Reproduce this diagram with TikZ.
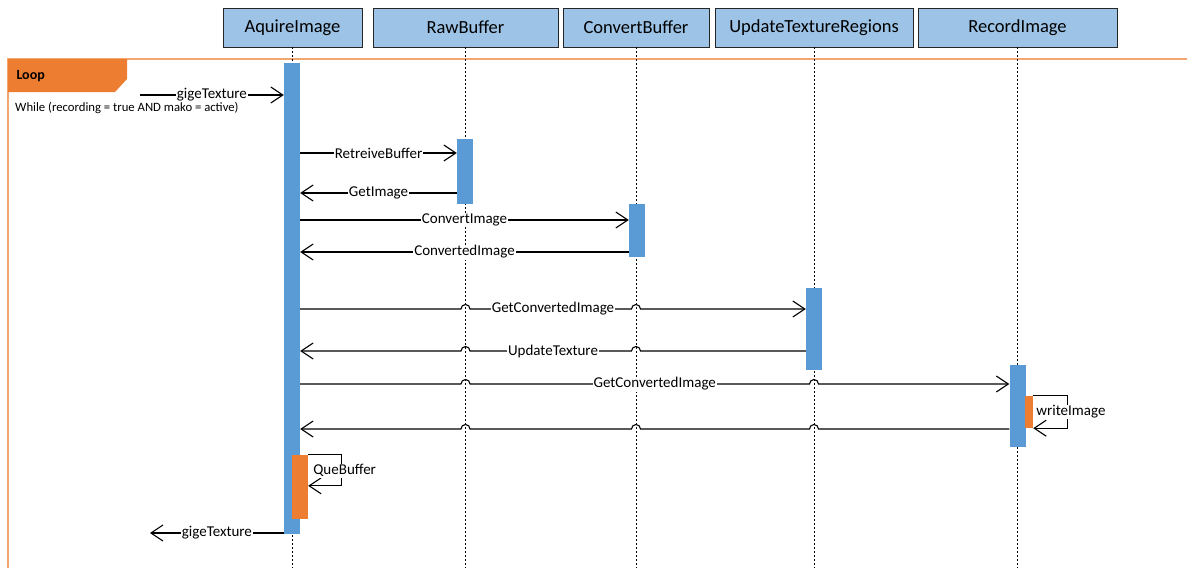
\documentclass[tikz,border=0pt]{standalone}
\usepackage{fontspec}
\setmainfont{Carlito}
\usetikzlibrary{positioning, calc, arrows.meta}
\definecolor{headblue}{RGB}{157,195,230}
\definecolor{barblue}{RGB}{91,155,213}
\definecolor{looporange}{RGB}{237,125,49}
\definecolor{framepeach}{RGB}{244,166,112}
\tikzset{
    header/.style={draw=black!85, fill=headblue, minimum height=39pt, inner sep=0pt, font=\fontsize{18.5}{20}\selectfont},
    bar/.style={fill=barblue, minimum width=16pt, inner sep=0pt},
    selfbar/.style={fill=looporange, minimum width=16pt, inner sep=0pt},
    lifeline/.style={line width=1pt, dash pattern=on 2pt off 2pt},
    msg/.style={line width=1.1pt, -{Straight Barb[length=12pt, width=16pt, line width=1.1pt]}},
    lbl/.style={fill=white, inner sep=1pt, font=\fontsize{15}{17}\selectfont},
}
% hop over a lifeline, going right or going left
\newcommand{\hopr}[2]{-- ([xshift=-4.5pt]#1 |- #2) arc[start angle=180, end angle=0, radius=4.5pt]}
\newcommand{\hopl}[2]{-- ([xshift=4.5pt]#1 |- #2) arc[start angle=0, end angle=180, radius=4.5pt]}

\begin{document}
\begin{tikzpicture}[x=1pt, y=-1pt]
  \useasboundingbox (0,0) rectangle (1187,568);
  % loop frame
  \draw[framepeach, line width=1.5pt] (1187,59) -- (8,59) -- (8,568);
  \fill[looporange] (8,59) -- (127,59) -- (127,79) -- (115,92) -- (8,92) -- cycle;
  \node[anchor=west, font=\fontsize{14}{16}\selectfont\bfseries] (looplbl) at (13,76) {Loop};
  \node[anchor=west, inner sep=1pt, font=\fontsize{12.7}{14}\selectfont] (guard) at (14,108) {While (recording = true AND mako = active)};
  % participants
  \node(acq)[header, minimum width=139pt] at (292.5,27.5) {AquireImage};
  \node(raw)[header, minimum width=185pt] at (465.5,27.5) {RawBuffer};
  \node(cnv)[header, minimum width=146pt] at (636,27.5) {ConvertBuffer};
  \node(upd)[header, minimum width=198pt] at (814,27.5) {UpdateTextureRegions};
  \node(rec)[header, minimum width=199pt] at (1017.5,27.5) {RecordImage};
  \foreach \p in {acq, raw, cnv, upd, rec}
    \draw[lifeline] (\p.south) -- (\p |- 0,568);
  % activations
  \node(acqbar)[bar, minimum height=471pt] at (292,298.5) {};
  \node(rawbar)[bar, minimum height=65pt] at (465,171.5) {};
  \node(cnvbar)[bar, minimum height=53pt] at (637,230.5) {};
  \node(updbar)[bar, minimum height=82pt] at (814,329) {};
  \node(recbar)[bar, minimum height=82pt] at (1017.5,406) {};
  \node(wibar)[selfbar, minimum width=8pt, minimum height=32pt] at (1029,412) {};
  \node(qbar)[selfbar, minimum height=64pt] at (300,487) {};
  % message levels
  \coordinate(gigein) at (140,95);
  \coordinate(y1) at (0,153);
  \coordinate(y2) at (0,193);
  \coordinate(y3) at (0,220);
  \coordinate(y4) at (0,252);
  \coordinate(y5) at (0,309);
  \coordinate(y6) at (0,351);
  \coordinate(y7) at (0,384);
  \coordinate(y8) at (0,429);
  \coordinate(gigeout) at (150,533);
  % messages
  \draw[msg](gigein) -- node[lbl]{gigeTexture} (acqbar.west |- gigein);
  \draw[msg](acqbar.east |- y1) -- node[lbl]{RetreiveBuffer} (rawbar.west |- y1);
  \draw[msg](rawbar.west |- y2) -- node[lbl]{GetImage} (acqbar.east |- y2);
  \draw[msg](acqbar.east |- y3) -- node[lbl]{ConvertImage} (cnvbar.west |- y3);
  \draw[msg](cnvbar.west |- y4) -- node[lbl]{ConvertedImage} (acqbar.east |- y4);
  \draw[msg](acqbar.east |- y5) \hopr{raw}{y5} \hopr{cnv}{y5} -- (updbar.west |- y5);
  \node[lbl] at ($(acqbar.east |- y5)!.5!(updbar.west |- y5)$) {GetConvertedImage};
  \draw[msg](updbar.west |- y6) \hopl{cnv}{y6} \hopl{raw}{y6} -- (acqbar.east |- y6);
  \node[lbl] at ($(acqbar.east |- y6)!.5!(updbar.west |- y6)$) {UpdateTexture};
  \draw[msg](acqbar.east |- y7) \hopr{raw}{y7} \hopr{upd}{y7} -- (recbar.west |- y7);
  \node[lbl] at ($(acqbar.east |- y7)!.5!(recbar.west |- y7)$) {GetConvertedImage};
  \draw[msg](recbar.west |- y8) \hopl{upd}{y8} \hopl{cnv}{y8} \hopl{raw}{y8} -- (acqbar.east |- y8);
  % self calls
  \draw[msg](wibar.north east) -- ++(34,0) |- (wibar.south east);
  \node[lbl, anchor=west] at ([xshift=2pt]wibar.east) {writeImage};
  \draw[msg](qbar.north east) -- ++(33,0) -- ++(0,31) -- ++(-33,0);
  \node[lbl, anchor=west] at ([xshift=4pt, yshift=-16pt]qbar.north east) {QueBuffer};
  \draw[msg](acqbar.west |- gigeout) -- node[lbl]{gigeTexture} (gigeout);
\end{tikzpicture}
\end{document}
